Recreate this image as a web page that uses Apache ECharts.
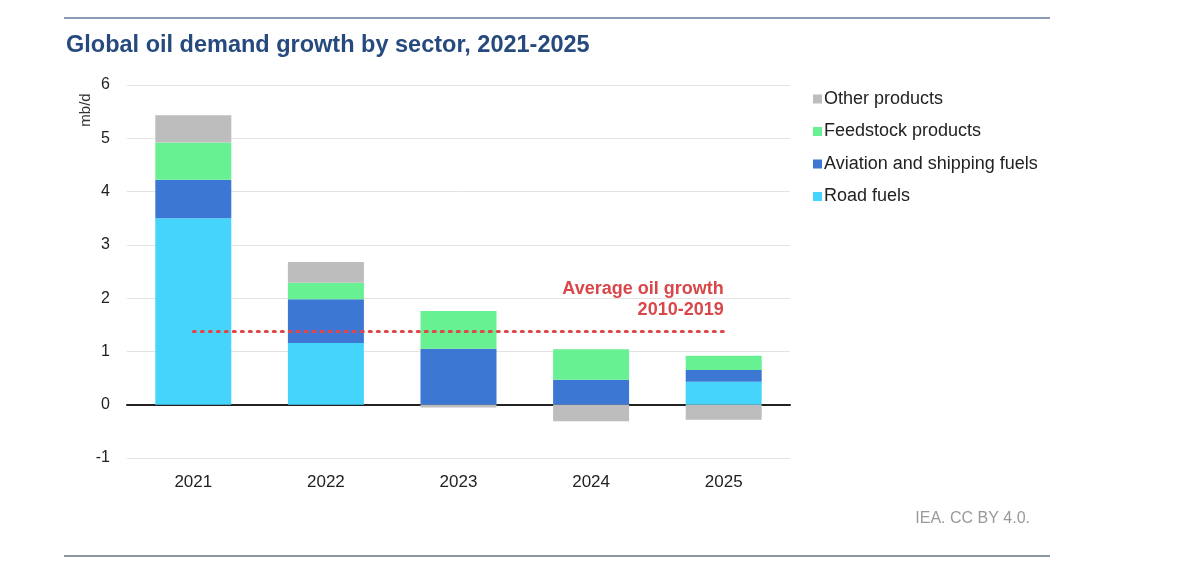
<!DOCTYPE html>
<html>
<head>
<meta charset="utf-8">
<script src="https://cdn.jsdelivr.net/npm/echarts@6/dist/echarts.min.js"></script>
<style>
  html, body { margin: 0; padding: 0; background: #fff; }
  #chart-container { width: 1200px; height: 575px; }
</style>
</head>
<body>
<div id="chart-container"></div>
<script>
const years = ['2021', '2022', '2023', '2024', '2025']
const roadFuels = [3.5, 1.16, 0, 0, 0.43]
const aviationShipping = [0.72, 0.82, 1.05, 0.47, 0.22]
const feedstock = [0.70, 0.31, 0.71, 0.57, 0.27]
const otherProducts = [0.51, 0.39, -0.05, -0.31, -0.28]
const avgGrowth = 1.37
const yTicks = { min: -1, max: 6, interval: 1 }

const font = 'Liberation Sans'

const dom = document.getElementById('chart-container')
const myChart = echarts.init(dom, null, { renderer: 'canvas' })

const bar = (name, data, color) => ({
  name,
  type: 'bar',
  stack: 'total',
  barWidth: 76,
  itemStyle: { color },
  data
})

const options = {
  textStyle: { fontFamily: font },
  title: {
    text: 'Global oil demand growth by sector, 2021-2025',
    left: 61,
    top: 29,
    textStyle: { fontFamily: font, fontSize: 23.5, fontWeight: 'bold', color: '#264a7e' }
  },
  legend: {
    orient: 'vertical',
    left: 808,
    top: 85,
    itemWidth: 9,
    itemHeight: 9,
    itemGap: 14.5,
    icon: 'rect',
    textStyle: { fontFamily: font, fontSize: 18, lineHeight: 18, color: '#222', padding: [0, 0, 0, -3] },
    data: ['Other products', 'Feedstock products', 'Aviation and shipping fuels', 'Road fuels']
  },
  grid: { left: 127, right: 410, top: 85, bottom: 117 },
  xAxis: {
    type: 'category',
    data: years,
    axisLine: { onZero: true, lineStyle: { color: '#222', width: 2 } },
    axisTick: { show: false },
    axisLabel: { fontSize: 17, color: '#222', margin: 16 }
  },
  yAxis: {
    type: 'value',
    min: yTicks.min,
    max: yTicks.max,
    interval: yTicks.interval,
    axisLabel: { fontSize: 16, color: '#222', margin: 17 },
    splitLine: { lineStyle: { color: '#e3e3e3', width: 1 } }
  },
  graphic: [
    { type: 'line', shape: { x1: 64, y1: 18, x2: 1050, y2: 18 }, style: { stroke: '#8a9bb8', lineWidth: 2 } },
    { type: 'line', shape: { x1: 64, y1: 556, x2: 1050, y2: 556 }, style: { stroke: '#8c979e', lineWidth: 2 } },
    { type: 'text', x: 1030, y: 511, style: { text: 'IEA. CC BY 4.0.', fill: '#999', fontFamily: font, fontSize: 16, textAlign: 'right' } },
    { type: 'text', x: 86, y: 110, rotation: Math.PI / 2, style: { text: 'mb/d', fill: '#333', fontFamily: font, fontSize: 15, textAlign: 'center', textVerticalAlign: 'middle' } }
  ],
  series: [
    Object.assign(bar('Road fuels', roadFuels, '#45d4fc'), {
      markLine: {
        symbol: 'none',
        silent: true,
        lineStyle: { color: '#e0464a', type: [2, 6], width: 3, cap: 'round' },
        label: {
          show: true,
          position: 'insideEndTop',
          formatter: 'Average oil growth\n2010-2019',
          color: '#d9474a',
          fontSize: 18,
          fontWeight: 'bold',
          lineHeight: 21,
          align: 'right',
          distance: [0, 11]
        },
        data: [[{ coord: [years[0], avgGrowth] }, { coord: [years[years.length - 1], avgGrowth] }]]
      }
    }),
    bar('Aviation and shipping fuels', aviationShipping, '#3b77d3'),
    bar('Feedstock products', feedstock, '#68f192'),
    bar('Other products', otherProducts, '#bdbdbd')
  ]
}

myChart.setOption(options)
window.addEventListener('resize', myChart.resize)
</script>
</body>
</html>
